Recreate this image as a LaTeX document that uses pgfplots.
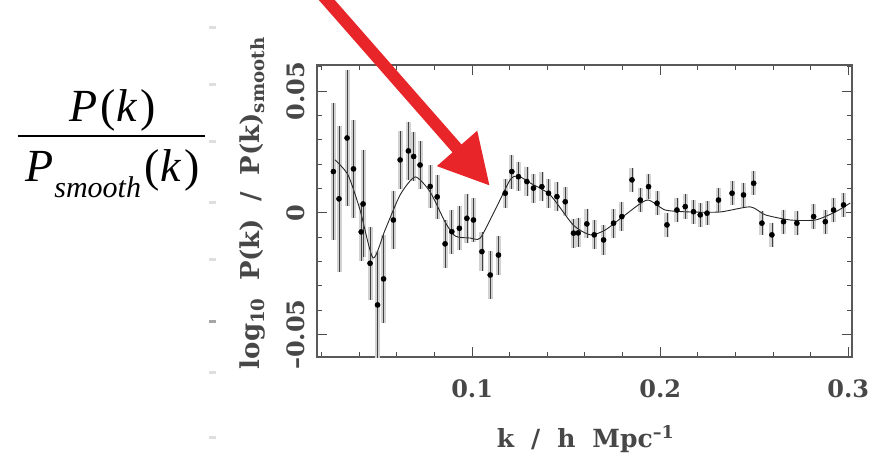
\documentclass[border=0pt]{standalone}
\usepackage{pgfplots}
\pgfplotsset{compat=1.18}
\usepackage{pgfplotstable}
\usepackage{fontspec}
\newfontfamily\tnr{Liberation Serif}
\newfontfamily\dvs{DejaVu Serif}
\usetikzlibrary{arrows.meta}
\definecolor{arrowred}{HTML}{E8262A}

\pgfplotstableread{
k v e
0.0262 0.0170 0.028
0.0292 0.0058 0.030
0.0335 0.0308 0.028
0.0369 0.0181 0.020
0.0420 0.0037 0.022
0.0410 -0.0078 0.012
0.0457 -0.0207 0.015
0.0497 -0.0378 0.022
0.0529 -0.0271 0.018
0.0581 -0.0029 0.012
0.0617 0.0218 0.012
0.0661 0.0255 0.012
0.0689 0.0232 0.010
0.0723 0.0197 0.010
0.0777 0.0109 0.009
0.0814 0.0066 0.009
0.0856 -0.0127 0.010
0.0892 -0.0077 0.009
0.0932 -0.0063 0.009
0.0972 -0.0022 0.010
0.1007 -0.0029 0.009
0.1052 -0.0159 0.008
0.1096 -0.0255 0.010
0.1140 -0.0173 0.008
0.1176 0.0081 0.006
0.1211 0.0170 0.007
0.1246 0.0149 0.006
0.1291 0.0129 0.006
0.1326 0.0102 0.006
0.1371 0.0108 0.006
0.1406 0.0081 0.006
0.1451 0.0067 0.006
0.1495 0.0046 0.006
0.1539 -0.0083 0.006
0.1564 -0.0082 0.006
0.1610 -0.0045 0.006
0.1649 -0.0090 0.006
0.1699 -0.0111 0.006
0.1752 -0.0042 0.006
0.1796 -0.0015 0.006
0.1850 0.0136 0.005
0.1894 0.0053 0.005
0.1938 0.0108 0.005
0.1983 0.0040 0.005
0.2036 -0.0049 0.005
0.2089 0.0012 0.005
0.2133 0.0026 0.005
0.2177 0.0005 0.005
0.2213 -0.0008 0.005
0.2249 -0.0001 0.005
0.2310 0.0053 0.005
0.2382 0.0081 0.005
0.2443 0.0074 0.005
0.2497 0.0122 0.005
0.2541 -0.0042 0.005
0.2594 -0.0090 0.005
0.2656 -0.0036 0.005
0.2727 -0.0042 0.005
0.2816 -0.0015 0.005
0.2878 -0.0036 0.005
0.2922 0.0012 0.005
0.2975 0.0033 0.005
}\datatab

\pgfplotstableread{
k v
0.0271 0.0218
0.0340 0.0156
0.0404 0.0012
0.0473 -0.0185
0.0537 -0.0070
0.0617 0.0074
0.0697 0.0148
0.0777 0.0086
0.0856 -0.0037
0.0910 -0.0095
0.0989 -0.0103
0.1043 -0.0103
0.1122 0.0012
0.1202 0.0136
0.1245 0.0152
0.1309 0.0123
0.1415 0.0074
0.1537 -0.0049
0.1628 -0.0090
0.1708 -0.0070
0.1814 -0.0008
0.1931 0.0053
0.2027 0.0012
0.2160 0.0004
0.2319 0.0004
0.2479 0.0025
0.2559 -0.0008
0.2692 -0.0029
0.2825 -0.0029
0.2931 0.0004
0.3011 0.0041
}\modeltab

\begin{document}
\begin{tikzpicture}[x=1pt,y=1pt]
\path[use as bounding box] (0,0) rectangle (885,460);
% faint remnant ticks at left
\foreach \yy in {432,375,318,257,200,87,23}{\fill[gray!25] (209,\yy-1.5) rectangle (216,\yy+1.5);}
\fill[gray!70] (209,136.5) rectangle (216,139.5);
\begin{axis}[at={(317pt,103pt)}, anchor=south west, scale only axis,
  width=535pt, height=292pt,
  xmin=0.0175, xmax=0.302, ymin=-0.0592, ymax=0.0608,
  scaled x ticks=false, scaled y ticks=false,
  xtick={0.1,0.2,0.3}, xticklabels={0.1,0.2,0.3},
  minor xtick={0.02,0.04,...,0.30},
  ytick={-0.05,0,0.05}, yticklabels={–0.05,0,0.05},
  minor ytick={-0.05,-0.04,...,0.06},
  tick align=inside, major tick length=10pt, minor tick length=5pt,
  axis line style={black!65, line width=1.8pt},
  every tick/.style={black!70, line width=1pt},
  /pgf/number format/assume math mode=true,
  tick label style={font=\dvs\bfseries\fontsize{24}{28}\selectfont, text=black!72},
  xticklabel style={anchor=north, inner sep=0pt, yshift=-22pt},
  yticklabel style={xshift=-12pt, rotate=90, anchor=south, inner sep=0pt},
  xlabel={k\hspace{17pt}/\hspace{17pt}h\hspace{17pt}Mpc\textsuperscript{–1}},
  xlabel style={at={(axis description cs:0.502,-0.282)}, anchor=center,
    font=\dvs\bfseries\fontsize{25}{28}\selectfont, text=black!72},
  ylabel={log\textsubscript{10}\hspace{17pt}P(k)\hspace{17pt}/\hspace{17pt}P(k)\textsubscript{smooth}},
  ylabel style={at={(axis description cs:-0.121,0.527)}, anchor=center,
    font=\dvs\bfseries\fontsize{26}{28}\selectfont, text=black!72},
]
\addplot[only marks, mark=none, forget plot,
  error bars/.cd, y dir=both, y explicit,
  error bar style={gray!35, line width=5pt}, error mark=none]
  table[x=k, y=v, y error=e]{\datatab};
\addplot[black!85, line width=0.9pt, smooth, tension=0.4] table[x=k, y=v]{\modeltab};
\addplot[only marks, mark=*, mark size=2.6pt, black,
  error bars/.cd, y dir=both, y explicit,
  error bar style={black!75, line width=0.7pt}, error mark=none]
  table[x=k, y=v, y error=e]{\datatab};
\end{axis}
% big fraction
\node[anchor=base, inner sep=0] at (112.5,338.3)
  {\tnr\fontsize{46}{50}\selectfont\textit{P}\kern3pt(\kern1pt\textit{k}\kern3pt)};
\draw[line width=2pt] (18,324) -- (205,324);
\node[anchor=base, inner sep=0] at (112.5,278)
  {\tnr\fontsize{46}{50}\selectfont\textit{P}\kern1pt\raisebox{-16pt}{\fontsize{30}{32}\selectfont\textit{smooth}}\kern3pt(\kern1pt\textit{k}\kern3pt)};
% red arrow
\draw[arrowred, line width=12pt, -{Triangle[length=50pt, width=50pt]}] (318,470) -- (490,274);
\end{tikzpicture}
\end{document}
